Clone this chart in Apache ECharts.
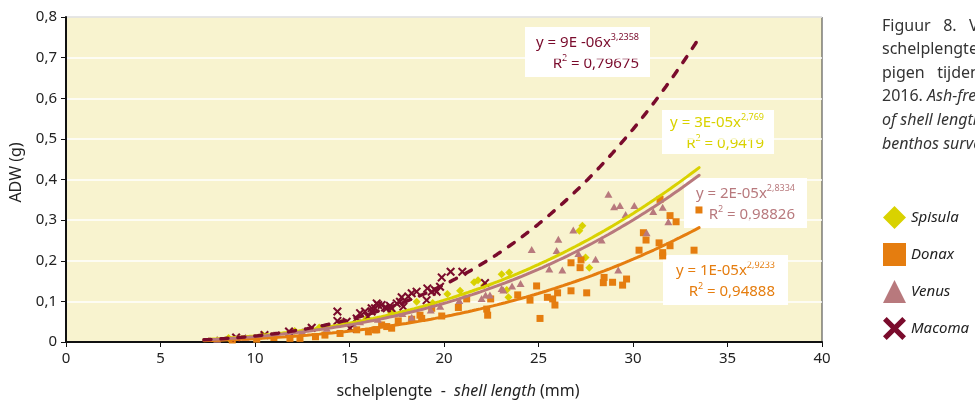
<!DOCTYPE html>
<html>
<head>
<meta charset="utf-8">
<title>ADW - schelplengte</title>
<script src="https://cdn.jsdelivr.net/npm/echarts@6/dist/echarts.min.js"></script>
<style>
  html, body { margin: 0; padding: 0; background: #ffffff; overflow: hidden; }
  #chart { width: 975px; height: 409px; }
</style>
</head>
<body>
<div id="chart"></div>
<script>
// Species shown in the legend
const species = ['Spisula', 'Donax', 'Venus', 'Macoma'];

// Measurements: [shell length (mm), ash-free dry weight (g)]
const spisulaPoints = [
  [8.6, 0.010], [10.4, 0.017], [12.1, 0.027], [13.4, 0.036], [14.6, 0.047], [15.9, 0.058],
  [17.2, 0.072], [18.55, 0.099], [19.4, 0.096], [20.18, 0.118], [20.85, 0.126], [21.59, 0.147],
  [21.8, 0.152], [22.12, 0.140], [23.05, 0.167], [23.45, 0.171], [23.32, 0.128], [23.41, 0.110],
  [27.16, 0.274], [27.32, 0.286], [27.49, 0.208], [27.69, 0.183]
];
const donaxPoints = [
  [8.8, 0.005], [10.09, 0.007], [11.0, 0.011], [11.85, 0.009], [12.38, 0.009], [13.2, 0.013],
  [13.7, 0.017], [14.5, 0.021], [15.38, 0.030], [16.0, 0.025], [16.35, 0.030], [16.44, 0.030],
  [16.7, 0.042], [16.97, 0.038], [17.23, 0.034], [17.58, 0.052], [18.29, 0.056], [18.73, 0.066],
  [18.82, 0.058], [19.35, 0.083], [19.88, 0.064], [20.76, 0.085], [21.2, 0.106], [22.26, 0.081],
  [22.31, 0.066], [22.47, 0.106], [23.9, 0.116], [24.55, 0.103], [24.9, 0.138], [25.08, 0.058],
  [25.47, 0.110], [25.75, 0.106], [25.87, 0.091], [26.01, 0.121], [26.72, 0.126], [26.72, 0.195],
  [27.2, 0.183], [27.25, 0.202], [27.55, 0.121], [28.43, 0.146], [28.47, 0.159], [28.92, 0.147],
  [29.45, 0.140], [29.66, 0.155], [30.32, 0.226], [30.55, 0.269], [30.69, 0.251], [31.38, 0.244],
  [31.43, 0.351], [31.57, 0.220], [31.57, 0.212], [31.96, 0.311], [31.96, 0.237], [32.28, 0.296],
  [33.23, 0.226], [33.49, 0.325]
];
const venusPoints = [
  [8.0, 0.007], [9.5, 0.012], [11.0, 0.018], [12.5, 0.026], [13.8, 0.034], [15.2, 0.045],
  [15.56, 0.050], [16.5, 0.056], [17.8, 0.070], [18.29, 0.061], [19.3, 0.079], [19.8, 0.088],
  [20.81, 0.102], [21.99, 0.107], [22.2, 0.116], [22.43, 0.116], [23.05, 0.132], [23.14, 0.128],
  [23.6, 0.138], [24.05, 0.144], [24.64, 0.228], [25.57, 0.180], [25.96, 0.225], [26.05, 0.253],
  [26.26, 0.177], [26.84, 0.276], [27.11, 0.218], [28.02, 0.204], [28.34, 0.251], [28.7, 0.364],
  [29.0, 0.333], [29.22, 0.177], [29.31, 0.336], [29.61, 0.314], [30.07, 0.336], [30.72, 0.269],
  [31.07, 0.321], [31.57, 0.332], [31.87, 0.296]
];
const macomaPoints = [
  [9.0, 0.011], [10.5, 0.017], [11.8, 0.026], [13.0, 0.035], [14.36, 0.052], [14.36, 0.075],
  [14.85, 0.050], [15.03, 0.034], [15.38, 0.058], [15.56, 0.071], [15.82, 0.075], [15.98, 0.062],
  [16.17, 0.075], [16.17, 0.083], [16.35, 0.083], [16.44, 0.095], [16.52, 0.091], [16.7, 0.091],
  [16.88, 0.085], [16.97, 0.083], [17.14, 0.089], [17.23, 0.083], [17.5, 0.095], [17.67, 0.099],
  [17.76, 0.110], [17.85, 0.087], [18.11, 0.112], [18.29, 0.120], [18.55, 0.124], [19.08, 0.103],
  [19.12, 0.132], [19.35, 0.124], [19.52, 0.128], [19.61, 0.124], [19.79, 0.136], [19.88, 0.159],
  [20.35, 0.173], [20.97, 0.173], [22.17, 0.145]
];

// Power trendlines y = a * x^b (Spisula, Donax, Venus, Macoma); labels show a to one significant figure
const trendCoef = [2.57e-5, 9.8e-6, 1.96e-5, 8.7e-6];
const trendExp = [2.769, 2.9233, 2.8334, 3.2358];
const trendR2 = ['0,9419', '0,94888', '0,98826', '0,79675'];
const trendRange = [7.3, 33.5];

// Axis ticks
const xTicks = [0, 5, 10, 15, 20, 25, 30, 35, 40];
const yTicks = [0, 0.1, 0.2, 0.3, 0.4, 0.5, 0.6, 0.7, 0.8];

const colors = ['#d9d200', '#e57d0f', '#b8797d', '#7a0b2c'];
const pointSets = [spisulaPoints, donaxPoints, venusPoints, macomaPoints];
const crossPath = 'path://M0,1.6L1.6,0L5,3.4L8.4,0L10,1.6L6.6,5L10,8.4L8.4,10L5,6.6L1.6,10L0,8.4L3.4,5Z';
const symbols = ['diamond', 'rect', 'triangle', crossPath];
const symbolSizes = [8, 7, [8, 7], 9];
const FONT = '"Noto Sans", "Open Sans", sans-serif';

function trendCurve(i) {
  const pts = [];
  const steps = 120;
  for (let k = 0; k <= steps; k++) {
    const x = trendRange[0] + (trendRange[1] - trendRange[0]) * k / steps;
    pts.push([x, trendCoef[i] * Math.pow(x, trendExp[i])]);
  }
  return pts;
}

function coefText(i, sep) {
  const parts = trendCoef[i].toExponential(0).split('e');
  const e = parseInt(parts[1], 10);
  const ee = String(Math.abs(e)).padStart(2, '0');
  return parts[0] + 'E' + (e < 0 ? sep : '+') + ee;
}

function decimalComma(v) { return String(v).replace('.', ','); }

const scatterSeries = species.map((name, i) => ({
  name: name,
  type: 'scatter',
  data: pointSets[i],
  symbol: symbols[i],
  symbolSize: symbolSizes[i],
  itemStyle: { color: colors[i], opacity: 1 },
  z: 2
}));

const lineSeries = species.map((name, i) => ({
  name: name + ' trend',
  type: 'line',
  data: trendCurve(i),
  showSymbol: false,
  smooth: false,
  silent: true,
  lineStyle: {
    color: colors[i],
    width: i === 3 ? 3.5 : 3,
    type: i === 3 ? [7, 10] : 'solid',
    cap: 'round'
  },
  z: 3
}));

// Equation boxes: [left, top, width, height, text right edge, separator]
const eqBoxes = [
  [662, 110, 112, 44, 102, '-'],
  [663, 255, 125, 50, 112, '-'],
  [684, 178, 123, 50, 111, '-'],
  [525, 27, 125, 50, 114, ' -']
];

const eqGraphics = eqBoxes.map((b, i) => ({
  type: 'group',
  left: b[0],
  top: b[1],
  children: [
    { type: 'rect', shape: { x: 0, y: 0, width: b[2], height: b[3] }, style: { fill: '#ffffff' } },
    {
      type: 'text',
      x: b[4],
      y: (b[3] - 42) / 2 + 1,
      style: {
        text: '{a|y = ' + coefText(i, b[5]) + 'x}{s|' + decimalComma(trendExp[i]) + '}\n{a|R}{s|2}{a| = ' + trendR2[i] + '}',
        align: 'right',
        verticalAlign: 'top',
        fill: colors[i],
        rich: {
          a: { fontFamily: FONT, fontSize: 15, lineHeight: 21, fill: colors[i] },
          s: { fontFamily: FONT, fontSize: 9, lineHeight: 21, verticalAlign: 'top', padding: [1, 0, 0, 0], fill: colors[i] }
        }
      }
    }
  ]
}));

// Caption to the right of the chart
const captionLines = [
  '{n|Figuur   8.   Verband tussen ADW en}',
  '{n|schelplengte voor de schelpdiersoorten}',
  '{n|pigen   tijdens  de  benthossurvey  in}',
  '{n|2016. }{i|Ash-free dry weight as a function}',
  '{i|of shell length for the bivalves in the}',
  '{i|benthos survey 2016.}'
];
const captionGraphics = captionLines.map((t, k) => ({
  type: 'text',
  left: 882,
  top: 18 + k * 23.6,
  style: {
    text: t,
    rich: {
      n: { fontFamily: FONT, fontSize: 16, fill: '#333333' },
      i: { fontFamily: FONT, fontSize: 16, fontStyle: 'italic', fill: '#333333' }
    }
  }
}));

const chart = echarts.init(document.getElementById('chart'), null, { renderer: 'canvas' });
chart.setOption({
  animation: false,
  backgroundColor: '#ffffff',
  grid: {
    left: 66, right: 153, top: 17, bottom: 67,
    containLabel: false,
    outerBoundsMode: 'none',
    show: true,
    backgroundColor: '#f8f3cf',
    borderColor: '#3a3a3a',
    borderWidth: 1
  },
  legend: {
    orient: 'vertical',
    left: 883,
    top: 206,
    padding: 0,
    itemWidth: 23,
    itemHeight: 23,
    itemGap: 14,
    data: species.map((n, i) => ({ name: n, icon: symbols[i] })),
    textStyle: { fontFamily: FONT, fontSize: 15, fontStyle: 'italic', color: '#222222' },
    selectedMode: false
  },
  xAxis: {
    type: 'value',
    min: xTicks[0],
    max: xTicks[xTicks.length - 1],
    interval: xTicks[1] - xTicks[0],
    name: '{n|schelplengte  -  }{i|shell length}{n| (mm)}',
    nameLocation: 'middle',
    nameGap: 41,
    nameTextStyle: {
      padding: [0, 0, 0, 28],
      rich: {
        n: { fontFamily: FONT, fontSize: 16, color: '#222222' },
        i: { fontFamily: FONT, fontSize: 16, fontStyle: 'italic', color: '#222222' }
      }
    },
    axisLine: { show: true, onZero: false, lineStyle: { color: '#111111', width: 2 } },
    axisTick: { show: true, inside: false, length: 5, lineStyle: { color: '#111111', width: 1 } },
    axisLabel: { fontFamily: FONT, fontSize: 15, color: '#222222', margin: 9 },
    splitLine: { show: false }
  },
  yAxis: {
    type: 'value',
    min: yTicks[0],
    max: yTicks[yTicks.length - 1],
    interval: 0.1,
    name: 'ADW (g)',
    nameLocation: 'middle',
    nameGap: 42,
    nameTextStyle: { fontFamily: FONT, fontSize: 16, color: '#222222', padding: [0, 0, 0, 14] },
    axisLine: { show: true, onZero: false, lineStyle: { color: '#111111', width: 2 } },
    axisTick: { show: true, inside: false, length: 5, lineStyle: { color: '#111111', width: 1 } },
    axisLabel: {
      fontFamily: FONT, fontSize: 15, color: '#222222', margin: 9,
      formatter: v => (v === 0 ? '0' : v.toFixed(1).replace('.', ','))
    },
    splitLine: { show: true, lineStyle: { color: '#ffffff', width: 1.5 } }
  },
  series: scatterSeries.concat(lineSeries),
  graphic: eqGraphics.concat(captionGraphics)
});
</script>
</body>
</html>
